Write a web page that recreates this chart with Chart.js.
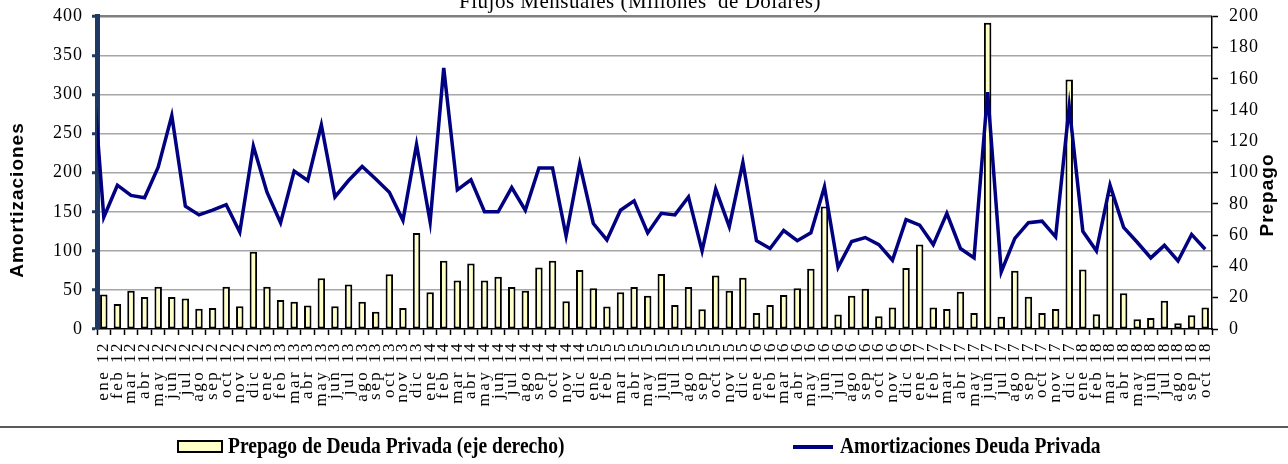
<!DOCTYPE html>
<html>
<head>
<meta charset="utf-8">
<script src="https://cdn.jsdelivr.net/npm/chart.js@4.4.1/dist/chart.umd.min.js"></script>
<style>
  html, body { margin: 0; padding: 0; background: #fff; }
  canvas { display: block; }
</style>
</head>
<body>
<canvas id="flujos" width="1288" height="464"></canvas>
<script>
const titulo = 'Flujos Mensuales (Millones  de Dolares)';
const meses = ['ene', 'feb', 'mar', 'abr', 'may', 'jun', 'jul', 'ago', 'sep', 'oct', 'nov', 'dic'];
const anios = ['12', '13', '14', '15', '16', '17', '18'];
const mesesUltimoAnio = 10; // 2018 llega hasta octubre

// dic 11 queda fuera del eje, solo sirve para el tramo inicial de la linea
const etiquetas = ['dic 11'];
anios.forEach((a, k) => {
    const n = k === anios.length - 1 ? mesesUltimoAnio : 12;
    for (let m = 0; m < n; m++) etiquetas.push(meses[m] + ' ' + a);
});

// Amortizaciones Deuda Privada (eje izquierdo)
const amortDic11 = 370;
const amort12 = [143, 184, 171, 168, 207, 273, 157, 146, 152, 159, 124, 234];
const amort13 = [175, 136, 202, 190, 261, 169, 190, 208, 192, 175, 139, 236];
const amort14 = [137, 334, 178, 191, 150, 150, 181, 152, 206, 206, 119, 211];
const amort15 = [135, 114, 152, 164, 123, 148, 146, 169, 100, 179, 131, 213];
const amort16 = [113, 103, 126, 113, 123, 182, 79, 112, 117, 108, 88, 140];
const amort17 = [133, 108, 148, 103, 91, 303, 73, 116, 136, 138, 118, 285];
const amort18 = [125, 100, 184, 130, 111, 91, 107, 87, 121, 102];

// Prepago de Deuda Privada (eje derecho)
const prep12 = [22, 16, 24.5, 20.5, 27, 20.5, 19.5, 13, 13.5, 27, 14.5, 49.5];
const prep13 = [27, 18.5, 17.5, 15, 32.5, 14.5, 28.5, 17.5, 11, 35, 13.5, 61.5];
const prep14 = [23.5, 43.6, 31.1, 41.9, 31.1, 33.5, 26.9, 24.4, 39.4, 43.6, 17.8, 37.7];
const prep15 = [26.1, 14.4, 23.5, 26.9, 21.2, 35.2, 15.3, 26.9, 12.7, 34.3, 24.4, 32.8];
const prep16 = [10.2, 15.3, 21.8, 26.1, 38.6, 78.4, 9.3, 21.3, 25.7, 8.1, 13.7, 39];
const prep17 = [54, 13.7, 12.8, 23.8, 10.3, 196, 7.9, 37.3, 20.6, 10.3, 12.8, 159.6];
const prep18 = [38.1, 9.4, 86, 22.9, 6.2, 7.1, 18, 3.6, 8.8, 13.7];

const amortizaciones = [amortDic11].concat(amort12, amort13, amort14, amort15, amort16, amort17, amort18);
const prepagos = [null].concat(prep12, prep13, prep14, prep15, prep16, prep17, prep18);

const azul = '#000080';
const amarillo = '#FFFFC8';

const rotulos = {
    id: 'rotulos',
    beforeDraw(chart) {
        chart.ctx.letterSpacing = '1px';
    },
    afterDraw(chart) {
        const { ctx, chartArea } = chart;
        const x = chart.scales.x;
        ctx.save();
        ctx.fillStyle = '#000';

        ctx.font = '21px "Liberation Serif"';
        ctx.letterSpacing = '0.5px';
        ctx.textAlign = 'center';
        ctx.textBaseline = 'alphabetic';
        ctx.fillText(titulo, 640, 8);

        // meses en vertical bajo el eje
        ctx.font = '17px "Liberation Serif"';
        ctx.letterSpacing = '2.5px';
        ctx.textAlign = 'right';
        ctx.textBaseline = 'middle';
        for (let i = x.min; i <= x.max; i++) {
            ctx.save();
            ctx.translate(x.getPixelForValue(i), chartArea.bottom + 12);
            ctx.rotate(-Math.PI / 2);
            ctx.fillText(etiquetas[i], 0, 0);
            ctx.restore();
        }

        ctx.font = 'bold 19px "Liberation Sans"';
        ctx.letterSpacing = '1px';
        ctx.textAlign = 'center';
        ctx.save();
        ctx.translate(18, 200);
        ctx.rotate(-Math.PI / 2);
        ctx.fillText('Amortizaciones', 0, 0);
        ctx.restore();
        ctx.save();
        ctx.translate(1268, 195);
        ctx.rotate(-Math.PI / 2);
        ctx.fillText('Prepago', 0, 0);
        ctx.restore();

        // leyenda
        ctx.strokeStyle = '#595959';
        ctx.lineWidth = 2;
        ctx.beginPath();
        ctx.moveTo(0, 427);
        ctx.lineTo(1288, 427);
        ctx.stroke();

        const [barras, linea] = chart.data.datasets;
        ctx.fillStyle = barras.backgroundColor;
        ctx.fillRect(178, 441, 44, 11);
        ctx.strokeStyle = barras.borderColor;
        ctx.lineWidth = 2;
        ctx.strokeRect(178, 441, 44, 11);

        ctx.strokeStyle = linea.borderColor;
        ctx.lineWidth = 4;
        ctx.beginPath();
        ctx.moveTo(793, 447);
        ctx.lineTo(833, 447);
        ctx.stroke();

        ctx.fillStyle = '#000';
        ctx.font = 'bold 23px "Liberation Serif"';
        ctx.letterSpacing = '0px';
        ctx.textAlign = 'left';
        ctx.textBaseline = 'middle';
        [[barras.label, 228], [linea.label, 840]].forEach(([txt, px]) => {
            ctx.save();
            ctx.translate(px, 447);
            ctx.scale(0.85, 1);
            ctx.fillText(txt, 0, 0);
            ctx.restore();
        });
        ctx.restore();
    }
};

new Chart(document.getElementById('flujos').getContext('2d'), {
    type: 'bar',
    data: {
        labels: etiquetas,
        datasets: [
            {
                type: 'bar',
                label: 'Prepago de Deuda Privada (eje derecho)',
                data: prepagos,
                yAxisID: 'y1',
                backgroundColor: amarillo,
                borderColor: '#000',
                borderWidth: 2,
                borderSkipped: false,
                categoryPercentage: 1,
                barPercentage: 0.55,
                order: 1
            },
            {
                type: 'line',
                label: 'Amortizaciones Deuda Privada',
                data: amortizaciones,
                yAxisID: 'y',
                borderColor: azul,
                backgroundColor: azul,
                borderWidth: 3.5,
                pointRadius: 0,
                tension: 0,
                order: 0
            }
        ]
    },
    options: {
        responsive: false,
        animation: false,
        layout: { padding: { top: 15, left: 0, right: 0, bottom: 0 } },
        plugins: {
            legend: { display: false },
            title: { display: false },
            tooltip: { enabled: false }
        },
        scales: {
            x: {
                type: 'category',
                min: 1,
                offset: true,
                afterFit(s) { s.height = 135; },
                ticks: { display: false },
                grid: {
                    offset: true,
                    drawOnChartArea: false,
                    tickLength: 6,
                    tickColor: '#000',
                    tickWidth: 1.5
                },
                border: { color: '#000', width: 1.5 }
            },
            y: {
                position: 'left',
                min: 0,
                max: 400,
                afterFit(s) { s.width = 97; },
                ticks: {
                    stepSize: 50,
                    padding: 9,
                    color: '#000',
                    font: { family: 'Liberation Serif', size: 18, lineHeight: 0.6 }
                },
                grid: {
                    color: c => c.tick.value === 0 ? 'rgba(0,0,0,0)' : (c.tick.value === 400 ? '#7f7f7f' : '#a6a6a6'),
                    lineWidth: c => c.tick.value === 400 ? 2.5 : 1.5,
                    tickColor: '#1F3864',
                    tickWidth: 3,
                    tickLength: 5
                },
                border: { color: '#1F3864', width: 5 }
            },
            y1: {
                position: 'right',
                min: 0,
                max: 200,
                afterFit(s) { s.width = 76; },
                ticks: {
                    stepSize: 20,
                    padding: 11,
                    color: '#000',
                    font: { family: 'Liberation Serif', size: 18, lineHeight: 0.6 }
                },
                grid: {
                    drawOnChartArea: false,
                    tickColor: '#000',
                    tickWidth: 1.5,
                    tickLength: 6
                },
                border: { color: '#000', width: 1.5 }
            }
        }
    },
    plugins: [rotulos]
});
</script>
</body>
</html>
